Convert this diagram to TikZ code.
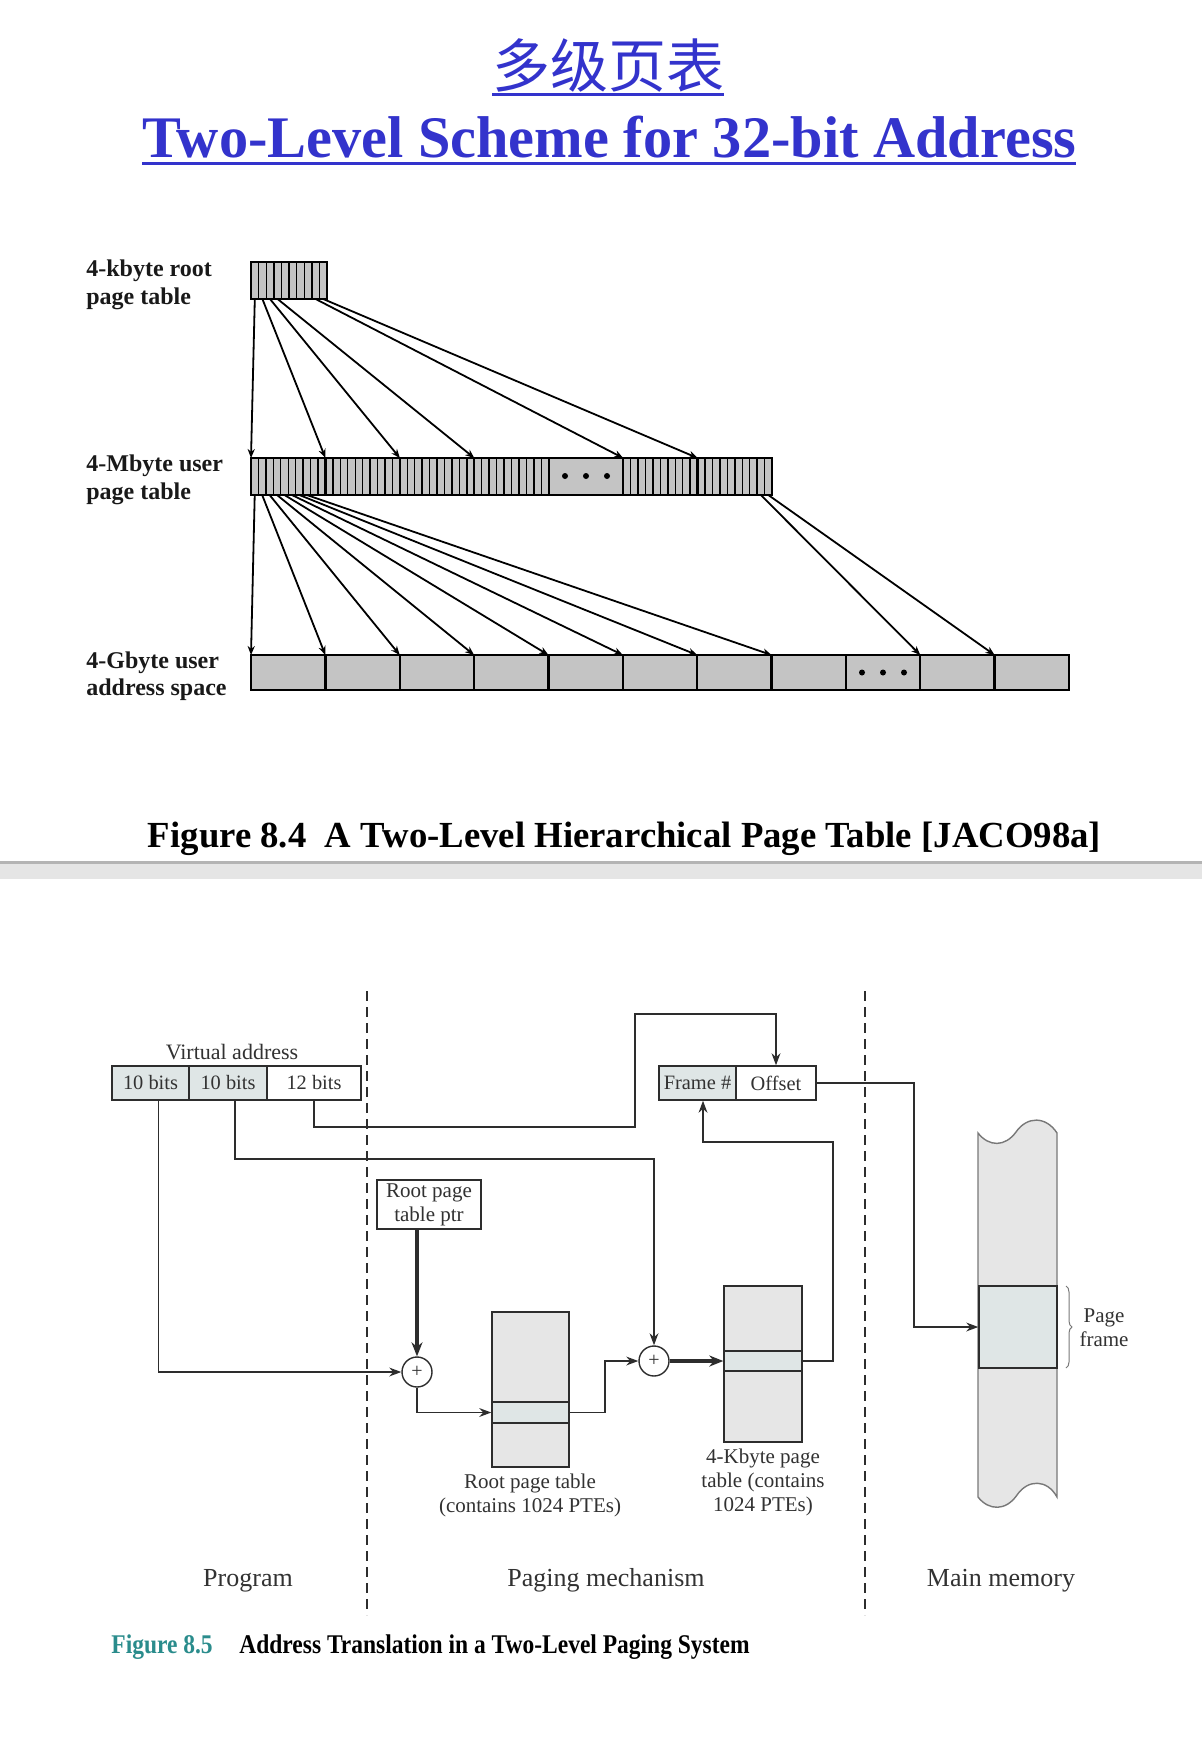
\documentclass[tikz,border=0pt]{standalone}
\usepackage{fontspec}
\setmainfont{Liberation Serif}
\newfontfamily\cjkfont{Noto Sans CJK SC}
\usetikzlibrary{arrows.meta,decorations.pathreplacing,calc}

\definecolor{titleblue}{RGB}{51,51,204}
\definecolor{topfill}{RGB}{196,196,196}
\definecolor{bfill}{RGB}{223,230,230}
\definecolor{tfill}{RGB}{230,230,230}
\definecolor{lc}{RGB}{45,45,45}
\definecolor{txt}{RGB}{50,50,50}
\definecolor{tealcap}{RGB}{42,140,140}
\definecolor{sepline}{RGB}{180,180,180}
\definecolor{sepband}{RGB}{229,229,229}
\definecolor{memedge}{RGB}{120,120,120}

\begin{document}
\begin{tikzpicture}[x=0.5pt,y=-0.5pt,
  toplbl/.style={anchor=base west, inner sep=0pt, font=\fontsize{12}{14}\selectfont\bfseries, text=black!90},
  tarrow/.style={-{Stealth[length=4.5pt,width=3.6pt]}, line width=0.9pt},
  barrow/.style={-{Stealth[length=6pt,width=4.4pt]}, line width=0.9pt, draw=lc},
  bthick/.style={-{Stealth[length=7pt,width=5.5pt]}, line width=1.8pt, draw=lc},
  vbox/.style={draw=lc, line width=0.7pt, inner sep=0pt, minimum height=17pt, font=\fontsize{10.2}{12}\selectfont, text=txt},
  blbl/.style={inner sep=0pt, font=\fontsize{10.5}{12}\selectfont, text=txt, align=center},
  region/.style={anchor=base, inner sep=0pt, font=\fontsize{13}{15}\selectfont, text=txt},
  divider/.style={draw=lc, line width=1pt, dash pattern=on 5pt off 3pt},
  adder/.style={circle, draw=lc, line width=0.7pt, fill=white, minimum size=15pt, inner sep=0pt, font=\fontsize{10}{10}\selectfont, text=txt},
  tbl/.style={draw=lc, fill=tfill, line width=0.7pt, inner sep=0pt},
  strip/.style={draw=lc, fill=bfill, line width=0.7pt, inner sep=0pt},
]
\useasboundingbox (0,0) rectangle (1202,1740);
\fill[white] (0,0) rectangle (1202,1740);

% ---------------- titles ----------------
\node[text=titleblue, inner sep=0pt] (t1) at (608,65) {\cjkfont\fontsize{29}{30}\selectfont 多级页表};
\draw[titleblue, line width=1.5pt] (492,94) -- (724,94);
\node[anchor=base west, inner sep=0pt, text=titleblue] (t2) at (142,157)
  {\resizebox{467pt}{20.75pt}{\bfseries Two-Level Scheme for 32-bit Address}};
\draw[titleblue, line width=1.5pt] (142,163) -- (1076,163);

% ---------------- top figure ----------------
\node[toplbl] (l1a) at (86,276) {4-kbyte root};
\node[toplbl] (l1b) at (86,304) {page table};
\node[toplbl] (l2a) at (86,471) {4-Mbyte user};
\node[toplbl] (l2b) at (86,499) {page table};
\node[toplbl] (l3a) at (86,668) {4-Gbyte user};
\node[toplbl] (l3b) at (86,695) {address space};

% root page table
\fill[topfill] (251,262) rectangle (327,299);
\foreach \i in {1,...,9} \draw[line width=0.7pt] ({251+7.6*\i},262) -- ++(0,37);
\draw[line width=1.2pt] (251,262) rectangle (327,299);

% user page table
\fill[topfill] (251,458) rectangle (772,495);
\foreach \s in {0,1,2,3,5,6} \foreach \i in {1,...,9}
  \draw[line width=0.7pt] ({251+74.43*\s+7.443*\i},458) -- ++(0,37);
\foreach \s in {1,...,6} \draw[line width=1.2pt] ({251+74.43*\s},458) -- ++(0,37);
\draw[line width=1.2pt] (251,458) rectangle (772,495);
\foreach \x in {565,586,607} \fill (\x,476) circle[radius=1.5pt];

% address space
\fill[topfill] (251,655) rectangle (1069,690);
\foreach \s in {1,...,10} \draw[line width=1.2pt] ({251+74.36*\s},655) -- ++(0,35);
\draw[line width=1.2pt] (251,655) rectangle (1069,690);
\foreach \x in {862,883,904} \fill (\x,672.5) circle[radius=1.5pt];

% connector end points
\foreach \s in {0,...,9} \coordinate (rs\s) at ({251+7.6*(\s+0.5)},299);
\foreach \t in {0,...,7} \coordinate (ut\t) at ({251+74.43*\t},458);
\foreach \s in {0,...,9} \coordinate (us\s) at ({251+7.443*(\s+0.5)},495);
\foreach \s in {8,9} \coordinate (ue\s) at ({697.6+7.443*(\s+0.5)},495);
\foreach \t in {0,...,10} \coordinate (at\t) at ({251+74.36*\t},655);

\foreach \s/\t in {0/0,1/1,2/2,3/3,8/5,9/6} \draw[tarrow] (rs\s) -- (ut\t);
\foreach \s in {0,...,7} \draw[tarrow] (us\s) -- (at\s);
\draw[tarrow] (ue8) -- (at9);
\draw[tarrow] (ue9) -- (at10);

\node[anchor=base, inner sep=0pt] (cap84) at (624.5,847)
  {\resizebox{476.5pt}{!}{\bfseries Figure 8.4\hspace{0.5em}A Two-Level Hierarchical Page Table [JACO98a]}};

% separator
\fill[sepline] (0,861) rectangle (1202,864);
\fill[sepband] (0,864) rectangle (1202,879);

% ---------------- bottom figure ----------------
\draw[divider] (367,991) -- (367,1615);
\draw[divider] (865,991) -- (865,1615);

\node[anchor=base, inner sep=0pt, font=\fontsize{11}{13}\selectfont, text=txt] (valbl) at (232,1059) {Virtual address};
\node[vbox, fill=bfill, minimum width=38.5pt] (va1) at (150.5,1083) {10 bits};
\node[vbox, fill=bfill, minimum width=39pt] (va2) at (228,1083) {10 bits};
\node[vbox, fill=white, minimum width=47pt] (va3) at (314,1083) {12 bits};

\node[vbox, fill=bfill, minimum width=38.5pt] (frame) at (697.5,1083) {Frame \#};
\node[vbox, fill=white, minimum width=40pt] (off) at (776,1083) {Offset};

\node[draw=lc, line width=0.7pt, fill=white, minimum width=52pt, minimum height=24.5pt, inner sep=0pt,
      blbl] (ptr) at (429,1204.5) {Root page\\table ptr};

\node[adder] (add1) at (417,1372) {+};
\node[adder] (add2) at (654,1361) {+};

\node[tbl, minimum width=38.5pt, minimum height=77.5pt] (rtab) at (530.5,1389.5) {};
\node[strip, minimum width=38.5pt, minimum height=10.5pt] (rstrip) at (530.5,1412.5) {};
\node[tbl, minimum width=39pt, minimum height=78pt] (ktab) at (763,1364) {};
\node[strip, minimum width=39pt, minimum height=10pt] (kstrip) at (763,1361) {};

\node[blbl] (rtlbl) at (530,1495) {Root page table\\(contains 1024 PTEs)};
\node[blbl] (ktlbl) at (763,1482) {4-Kbyte page\\table (contains\\1024 PTEs)};

% main memory
\path[fill=tfill, draw=memedge, line width=0.7pt]
  (978,1133) .. controls (989,1147) and (1005,1147) .. (1016,1132)
  .. controls (1027,1116) and (1046,1116) .. (1057,1133)
  -- (1057,1497)
  .. controls (1047,1479) and (1028,1479) .. (1017,1495)
  .. controls (1006,1511) and (989,1511) .. (978,1497) -- cycle;
\node[draw=lc, fill=bfill, line width=0.7pt, minimum width=39pt, minimum height=41pt, inner sep=0pt] (pframe) at (1018,1327) {};
\coordinate (brt) at (1066,1286);
\coordinate (brb) at (1066,1368);
\draw[decorate, decoration={brace, amplitude=3pt}, draw=memedge, line width=0.5pt] (brt) -- (brb);
\node[blbl] (pflbl) at (1104,1328) {Page\\frame};

% connectors
\draw[barrow] ([xshift=4pt]va1.south) |- (add1.west);
\draw[barrow] ([xshift=3.5pt]va2.south) -- ++(0,58) -| (add2.north);
\coordinate (c12) at (635,1014);
\draw[barrow] (va3.south) -- ++(0,26) -| (c12) -| (off.north);
\draw[bthick] (add1 |- ptr.south) -- (add1.north);
\draw[barrow] (add1.south) |- (rstrip.west);
\draw[barrow] (rstrip.east) -- ++(35,0) |- (add2.west);
\draw[bthick] (add2.east) -- (kstrip.west);
\draw[barrow] (kstrip.east) -- ++(30,0) |- ([xshift=2.75pt,yshift=-20.5pt]frame.south) -- ([xshift=2.75pt]frame.south);
\draw[barrow] (off.east) -- ++(97,0) |- (pframe.west);

% region labels
\node[region] (prog) at (248,1586) {Program};
\node[region] (pmech) at (606,1586) {Paging mechanism};
\node[region] (mmem) at (1001,1586) {Main memory};

% caption 8.5
\node[anchor=base west, inner sep=0pt, text=tealcap] (cap85a) at (111,1653)
  {\scalebox{0.87}[1]{\fontsize{13.5}{15}\selectfont\bfseries Figure 8.5}};
\node[anchor=base west, inner sep=0pt] (cap85b) at (239,1653)
  {\scalebox{0.87}[1]{\fontsize{13.5}{15}\selectfont\bfseries Address Translation in a Two-Level Paging System}};
\end{tikzpicture}
\end{document}
